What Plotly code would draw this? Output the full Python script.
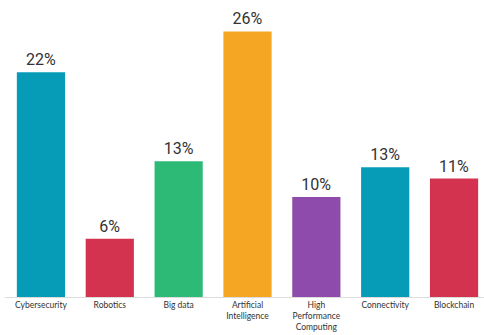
import plotly.graph_objects as go

categories = ["Cybersecurity", "Robotics", "Big data", "Artificial<br>Intelligence",
              "High<br>Performance<br>Computing", "Connectivity", "Blockchain"]
values = [22.0, 5.7, 13.3, 26.0, 9.8, 12.7, 11.6]
value_labels = ["22%", "6%", "13%", "26%", "10%", "13%", "11%"]
colors = ["#069cb8", "#d4334f", "#2dba77", "#f5a623", "#8e4bab", "#069cb8", "#d4334f"]

x = list(range(len(categories)))

fig = go.Figure(go.Bar(
    x=x, y=values, width=0.70,
    marker=dict(color=colors, line=dict(width=0)),
    text=value_labels, textposition="outside",
    textfont=dict(family="Roboto, sans-serif", size=16, color="#333333"),
    cliponaxis=False,
))

fig.update_layout(
    width=484, height=335,
    margin=dict(l=5, r=0, t=10, b=38),
    paper_bgcolor="white", plot_bgcolor="white",
    showlegend=False,
    xaxis=dict(
        tickmode="array", tickvals=x, ticktext=categories,
        range=[-0.522, 6.435], automargin=False,
        showline=True, linecolor="#dcdcdc", linewidth=1,
        showgrid=False, zeroline=False, ticks="",
        tickfont=dict(family="Lato, Roboto, sans-serif", size=8.5, color="#333333"),
        tickangle=0,
    ),
    yaxis=dict(range=[0, 28.1], visible=False, showgrid=False, zeroline=False,
               automargin=False),
)

fig.write_html("out.html", config={"displayModeBar": False},
               post_script="document.body.style.margin='0';")
